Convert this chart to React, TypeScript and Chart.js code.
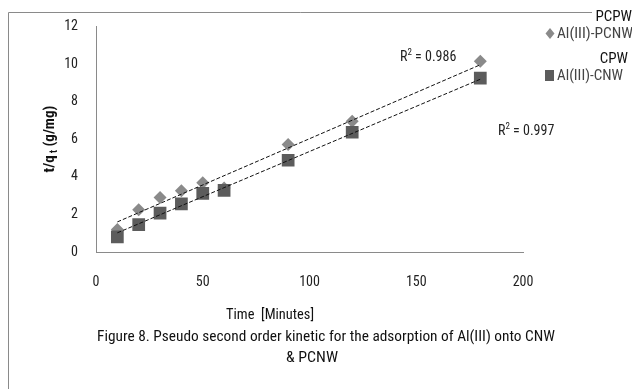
import React, { useEffect, useRef } from "react";
import { Chart, registerables } from "chart.js";

Chart.register(...registerables);

const timeMinutes = [10, 20, 30, 40, 50, 60, 90, 120, 180];
const pcnwValues = [1.2, 2.25, 2.9, 3.26, 3.68, 3.4, 5.72, 6.95, 10.15];
const cnwValues = [0.8, 1.46, 2.07, 2.56, 3.12, 3.28, 4.88, 6.37, 9.25];
const trendX = [10, 180];
const pcnwTrend = [1.6, 9.96];
const cnwTrend = [1.02, 9.19];
const xTicks = [0, 50, 100, 150, 200];
const yTicks = [0, 2, 4, 6, 8, 10, 12];
const r2Labels = ["0.986", "0.997"];

const FONT = "'Liberation Sans Narrow', 'Roboto Condensed', 'Liberation Sans', sans-serif";
const DIAMOND = "#8a8a8a";
const SQUARE = "#5c5c5c";

function fitText(ctx: CanvasRenderingContext2D, text: string, x: number, y: number, width: number, align: "left" | "center" | "right") {
  const w = ctx.measureText(text).width;
  const s = width / w;
  ctx.save();
  let x0 = x;
  if (align === "center") x0 = x - width / 2;
  if (align === "right") x0 = x - width;
  ctx.translate(x0, y);
  ctx.scale(s, 1);
  ctx.textAlign = "left";
  ctx.fillText(text, 0, 0);
  ctx.restore();
}

const decor = {
  id: "decor",
  afterDraw(chart: any) {
    const ctx: CanvasRenderingContext2D = chart.ctx;
    ctx.save();
    // frame
    ctx.strokeStyle = "#8a8a8a";
    ctx.lineWidth = 1;
    ctx.beginPath();
    ctx.moveTo(592, 12.5);
    ctx.lineTo(8.5, 12.5);
    ctx.lineTo(8.5, 389);
    ctx.stroke();

    ctx.textBaseline = "middle";
    // y title
    ctx.save();
    ctx.translate(50, 139);
    ctx.rotate(-Math.PI / 2);
    ctx.fillStyle = "#111";
    const p1 = "t/q";
    const p3 = " (g/mg)";
    ctx.font = `bold 15px ${FONT}`;
    const w1 = ctx.measureText(p1).width;
    const w3 = ctx.measureText(p3).width;
    ctx.font = `bold 10px ${FONT}`;
    const w2 = ctx.measureText(" t").width;
    const total = w1 + w2 + w3;
    let cx = -total / 2;
    ctx.textAlign = "left";
    ctx.font = `bold 15px ${FONT}`;
    ctx.fillText(p1, cx, 0);
    cx += w1;
    ctx.font = `bold 10px ${FONT}`;
    ctx.fillText(" t", cx, 4);
    cx += w2;
    ctx.font = `bold 15px ${FONT}`;
    ctx.fillText(p3, cx, 0);
    ctx.restore();

    // x title
    ctx.fillStyle = "#111";
    ctx.font = `14px ${FONT}`;
    fitText(ctx, "Time  [Minutes]", 270, 315, 88, "center");

    // caption
    ctx.font = `15px ${FONT}`;
    fitText(ctx, "Figure 8. Pseudo second order kinetic for the adsorption of Al(III) onto CNW", 97, 337, 458, "left");
    fitText(ctx, "& PCNW", 312, 358, 52, "center");

    // R2 labels
    const drawR2 = (x: number, y: number, val: string) => {
      ctx.fillStyle = "#222";
      ctx.font = `14px ${FONT}`;
      ctx.textAlign = "left";
      ctx.fillText("R", x, y);
      const wr = ctx.measureText("R").width;
      ctx.font = `9px ${FONT}`;
      ctx.fillText("2", x + wr, y - 4);
      const w2b = ctx.measureText("2").width;
      ctx.font = `14px ${FONT}`;
      ctx.fillText(" = " + val, x + wr + w2b, y);
    };
    drawR2(400, 57, r2Labels[0]);
    drawR2(498, 131, r2Labels[1]);

    // legend
    ctx.fillStyle = "#111";
    ctx.font = `15px ${FONT}`;
    ctx.textAlign = "right";
    ctx.fillText("PCPW", 632, 17);
    ctx.fillText("CPW", 628, 59);
    ctx.textAlign = "left";
    ctx.fillStyle = DIAMOND;
    ctx.beginPath();
    ctx.moveTo(550, 28);
    ctx.lineTo(554.5, 33.5);
    ctx.lineTo(550, 39);
    ctx.lineTo(545.5, 33.5);
    ctx.closePath();
    ctx.fill();
    ctx.fillStyle = SQUARE;
    ctx.fillRect(545, 70, 9, 11);
    ctx.fillStyle = "#444";
    ctx.font = `15px ${FONT}`;
    fitText(ctx, "Al(III)-PCNW", 557, 34, 76, "left");
    fitText(ctx, "Al(III)-CNW", 557, 76, 66, "left");
    ctx.restore();
  },
};

export default function App() {
  const ref = useRef<HTMLCanvasElement>(null);
  useEffect(() => {
    if (!ref.current) return;
    const chart = new Chart(ref.current, {
      type: "scatter",
      data: {
        datasets: [
          {
            label: "PCNW trend",
            data: trendX.map((x, i) => ({ x, y: pcnwTrend[i] })),
            showLine: true,
            borderColor: "#111",
            borderWidth: 1,
            borderDash: [4, 2],
            pointRadius: 0,
            order: 0,
          },
          {
            label: "CNW trend",
            data: trendX.map((x, i) => ({ x, y: cnwTrend[i] })),
            showLine: true,
            borderColor: "#111",
            borderWidth: 1,
            borderDash: [4, 2],
            pointRadius: 0,
            order: 0,
          },
          {
            label: "Al(III)-CNW",
            data: timeMinutes.map((x, i) => ({ x, y: cnwValues[i] })),
            pointStyle: "rect",
            pointRadius: 9,
            backgroundColor: SQUARE,
            borderWidth: 0,
            order: 1,
          },
          {
            label: "Al(III)-PCNW",
            data: timeMinutes.map((x, i) => ({ x, y: pcnwValues[i] })),
            pointStyle: "rectRot",
            pointRadius: 6.5,
            backgroundColor: DIAMOND,
            borderWidth: 0,
            order: 2,
          },
        ],
      },
      options: {
        animation: false,
        responsive: false,
        layout: { padding: { left: 0, right: 109, top: 24, bottom: 0 } },
        plugins: { legend: { display: false }, tooltip: { enabled: false }, title: { display: false } },
        scales: {
          x: {
            type: "linear",
            min: 0,
            max: 200,
            afterFit: (s: any) => { s.height = 137; },
            afterBuildTicks: (s: any) => { s.ticks = xTicks.map((v) => ({ value: v })); },
            grid: { display: false, drawTicks: false },
            border: { display: true, color: "#8a8a8a" },
            ticks: { padding: 22, color: "#222", font: { family: FONT, size: 14 } },
          },
          y: {
            type: "linear",
            min: 0,
            max: 12,
            afterFit: (s: any) => { s.width = 96; },
            afterBuildTicks: (s: any) => { s.ticks = yTicks.map((v) => ({ value: v })); },
            grid: { display: false, drawTicks: false },
            border: { display: true, color: "#8a8a8a" },
            ticks: { padding: 18, color: "#222", font: { family: FONT, size: 14 } },
          },
        },
      },
      plugins: [decor],
    });
    return () => chart.destroy();
  }, []);
  return (
    <div style={{ position: "fixed", left: 0, top: 0, width: 632, height: 389, background: "#fff" }}>
      <canvas ref={ref} width={632} height={389} style={{ width: 632, height: 389, display: "block" }} />
    </div>
  );
}
